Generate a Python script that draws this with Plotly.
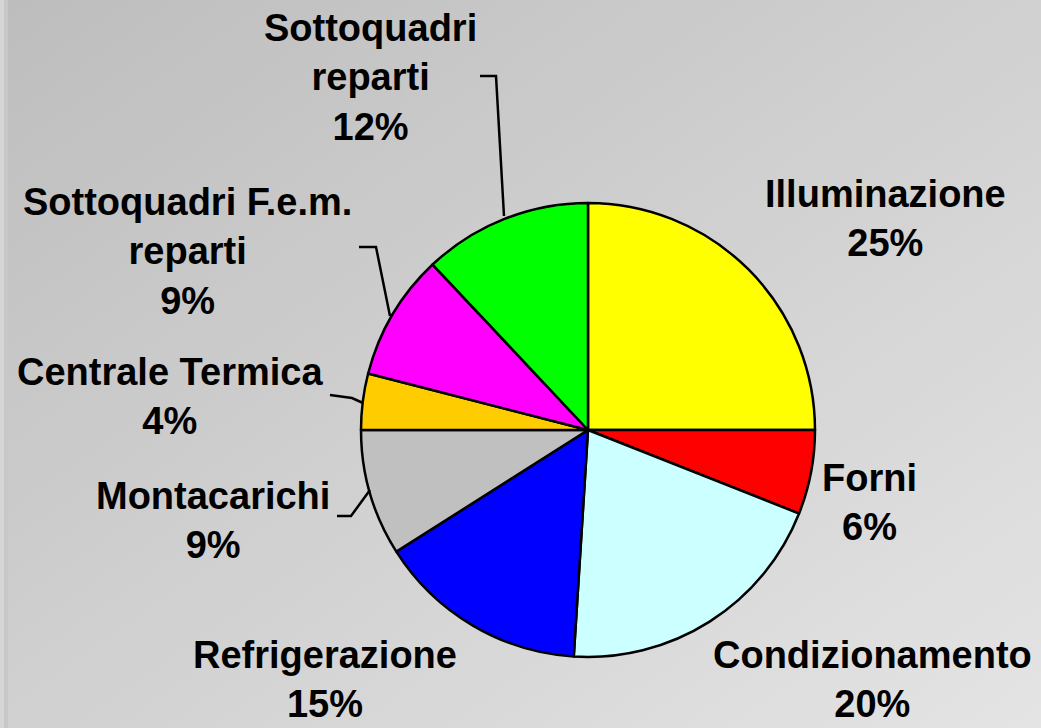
import base64
import plotly.graph_objects as go

# ---- data ----
labels = ["Illuminazione", "Forni", "Condizionamento", "Refrigerazione",
          "Montacarichi", "Centrale Termica", "Sottoquadri F.e.m. reparti",
          "Sottoquadri reparti"]
label_text = ["Illuminazione", "Forni", "Condizionamento", "Refrigerazione",
              "Montacarichi", "Centrale Termica", "Sottoquadri F.e.m.<br>reparti",
              "Sottoquadri<br>reparti"]
values = [25, 6, 20, 15, 9, 4, 9, 12]
colors = ["#FFFF00", "#FF0000", "#CCFFFF", "#0000FF",
          "#C0C0C0", "#FFCC00", "#FF00FF", "#00FF00"]

# ---- layout (pixel positions) ----
W, H = 1041, 728
cx, cy, r = 588, 430, 227
label_pos = [(885, 218), (869, 502), (872, 679), (325, 679),
             (213, 520), (170, 397), (187, 251), (370, 78)]
leaders = [
    None, None, None, None,
    [(337, 516), (351, 516), (370, 490)],
    [(330, 395), (352, 398), (363, 403)],
    [(359, 247), (376, 247), (390, 316)],
    [(480, 76), (496, 76), (504, 216)],
]

def px(x):
    return x / W

def py(y):
    return 1 - y / H

svg = f"""<svg xmlns='http://www.w3.org/2000/svg' width='{W}' height='{H}'>
<defs><linearGradient id='g' x1='0' y1='0' x2='1' y2='1'>
<stop offset='0' stop-color='#bdbdbd'/><stop offset='1' stop-color='#e4e4e4'/>
</linearGradient></defs>
<rect width='{W}' height='{H}' fill='url(#g)'/>
<rect x='0' width='4' height='{H}' fill='#d6d6d6'/>
<rect x='4' width='4' height='{H}' fill='#c8c8c8'/>
</svg>"""
bg_uri = "data:image/svg+xml;base64," + base64.b64encode(svg.encode()).decode()

fig = go.Figure(go.Pie(
    labels=labels,
    values=values,
    marker=dict(colors=colors, line=dict(color="black", width=2.5)),
    sort=False,
    direction="clockwise",
    rotation=0,
    textinfo="none",
    hoverinfo="label+percent",
    domain=dict(x=[px(cx - r), px(cx + r)], y=[py(cy + r), py(cy - r)]),
    showlegend=False,
))

annotations = []
for txt, v, (x, y) in zip(label_text, values, label_pos):
    annotations.append(dict(
        x=px(x), y=py(y), xref="paper", yref="paper",
        text=f"{txt}<br>{v}%", showarrow=False,
        xanchor="center", yanchor="middle", align="center",
        font=dict(family="Liberation Sans, Arial", size=38, color="black", weight="bold"),
    ))

shapes = []
for pts in leaders:
    if pts is None:
        continue
    path = "M " + " L ".join(f"{px(x)},{py(y)}" for x, y in pts)
    shapes.append(dict(type="path", xref="paper", yref="paper", path=path,
                       line=dict(color="black", width=2.5)))

fig.update_layout(
    width=W, height=H,
    margin=dict(l=0, r=0, t=0, b=0),
    paper_bgcolor="#d0d0d0",
    plot_bgcolor="rgba(0,0,0,0)",
    annotations=annotations,
    shapes=shapes,
    images=[dict(source=bg_uri, xref="paper", yref="paper", x=0, y=1,
                 sizex=1, sizey=1, xanchor="left", yanchor="top",
                 sizing="stretch", layer="below")],
)

fig.write_html("out.html",
               config={"displayModeBar": False},
               post_script="document.body.style.margin='0';document.body.style.overflow='hidden';")
